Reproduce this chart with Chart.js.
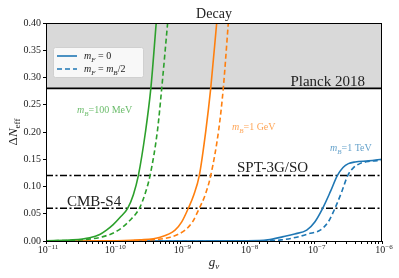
<!DOCTYPE html>
<html><head><meta charset="utf-8">
<script src="https://cdn.jsdelivr.net/npm/chart.js@4/dist/chart.umd.min.js"></script>
<style>html,body{margin:0;padding:0;background:#fff}</style>
</head><body>
<canvas id="c" width="399" height="278"></canvas>
<script>
// x values are log10(g_nu), y values are Delta N_eff
const greenSolidX = [-11, -10.6, -10.35, -10.2, -10.1, -10.0, -9.9, -9.785, -9.7, -9.626, -9.52, -9.44, -9.36];
const greenSolidY = [0.0005, 0.002, 0.006, 0.012, 0.02, 0.03, 0.043, 0.06, 0.085, 0.12, 0.2, 0.28, 0.40];
const greenDashX = [-11, -10.5, -10.15, -9.92, -9.75, -9.611, -9.53, -9.452, -9.34, -9.278, -9.19];
const greenDashY = [0.0003, 0.002, 0.008, 0.02, 0.038, 0.06, 0.085, 0.12, 0.204, 0.28, 0.40];
const orangeSolidX = [-11, -10, -9.6, -9.3, -9.08, -8.98, -8.882, -8.8, -8.719, -8.62, -8.549, -8.46];
const orangeSolidY = [0, 0.0005, 0.002, 0.007, 0.02, 0.035, 0.06, 0.085, 0.12, 0.204, 0.28, 0.40];
const orangeDashX = [-11, -10, -9.45, -9.15, -8.93, -8.82, -8.719, -8.63, -8.549, -8.43, -8.362, -8.287];
const orangeDashY = [0, 0.0003, 0.002, 0.007, 0.02, 0.035, 0.06, 0.085, 0.12, 0.204, 0.28, 0.40];
const blueSolidX = [-11, -8, -7.7, -7.47, -7.3, -7.12, -7.0, -6.883, -6.77, -6.665, -6.58, -6.5, -6.4, -6.2, -6];
const blueSolidY = [0, 0.0003, 0.002, 0.008, 0.013, 0.02, 0.035, 0.06, 0.09, 0.12, 0.135, 0.142, 0.145, 0.147, 0.15];
const blueDashX = [-11, -7.8, -7.5, -7.27, -7.1, -6.92, -6.8, -6.70, -6.6, -6.51, -6.42, -6.33, -6.2, -6];
const blueDashY = [0, 0.0003, 0.002, 0.007, 0.013, 0.02, 0.035, 0.06, 0.09, 0.12, 0.135, 0.142, 0.146, 0.148];
const planckLimit = 0.28;
const sptLimit = 0.12;
const s4Limit = 0.06;
const xTickExps = [-11, -10, -9, -8, -7, -6];
const yTicks = [0, 0.05, 0.10, 0.15, 0.20, 0.25, 0.30, 0.35, 0.40];

const green = '#2ca02c', orange = '#ff7f0e', blue = '#1f77b4';
const serif = '"Liberation Serif", "DejaVu Serif", serif';

function pts(xs, ys) {
  return xs.map((v, i) => ({x: Math.pow(10, v), y: ys[i]}));
}
function curve(xs, ys, color, dashed) {
  return {data: pts(xs, ys), borderColor: color, borderWidth: 1.6, borderDash: dashed ? [5, 3] : [],
    pointRadius: 0, cubicInterpolationMode: 'monotone', fill: false, order: 1};
}
function hline(v, dash, width, order) {
  return {data: [{x: 1e-11, y: v}, {x: 1e-6, y: v}], borderColor: '#000', borderWidth: width,
    borderDash: dash, pointRadius: 0, fill: false, order: order};
}

// draw text pieces: [text, 'r'|'i'|'sub'|'isub'|'sup']
function mathText(ctx, parts, x, y, size, color, align) {
  const small = p => p[1] === 'sub' || p[1] === 'isub' || p[1] === 'sup';
  const fontOf = p => {
    const it = p[1] === 'i' || p[1] === 'isub';
    return (it ? 'italic ' : '') + Math.round(small(p) ? size * 0.7 : size) + 'px ' + serif;
  };
  let w = 0;
  parts.forEach(p => { ctx.font = fontOf(p); w += ctx.measureText(p[0]).width; });
  let cx = align === 'center' ? x - w / 2 : (align === 'right' ? x - w : x);
  ctx.fillStyle = color;
  ctx.textBaseline = 'alphabetic';
  ctx.textAlign = 'left';
  parts.forEach(p => {
    ctx.font = fontOf(p);
    let dy = 0;
    if (p[1] === 'sub' || p[1] === 'isub') dy = size * 0.25;
    if (p[1] === 'sup') dy = -size * 0.45;
    ctx.fillText(p[0], cx, y + dy);
    cx += ctx.measureText(p[0]).width;
  });
}

const extras = {
  id: 'extras',
  afterDatasetsDraw(chart) {
    const ctx = chart.ctx, a = chart.chartArea;
    const xs = chart.scales.x, ys = chart.scales.y;
    ctx.save();
    // frame
    ctx.strokeStyle = '#000';
    ctx.lineWidth = 1;
    ctx.strokeRect(a.left + 0.5, a.top + 0.5, a.right - a.left - 1, a.bottom - a.top);
    // x tick labels
    xTickExps.forEach(e => {
      mathText(ctx, [['10', 'r'], ['\u2212' + Math.abs(e), 'sup']], xs.getPixelForValue(Math.pow(10, e)) + 2,
        a.bottom + 12, 10, '#222', 'center');
    });
    // annotations
    mathText(ctx, [['Decay', 'r']], (a.left + a.right) / 2, 18, 14, '#222', 'center');
    mathText(ctx, [['Planck 2018', 'r']], 365, ys.getPixelForValue(planckLimit) - 2.5, 14.5, '#222', 'right');
    mathText(ctx, [['SPT-3G/SO', 'r']], 237, ys.getPixelForValue(sptLimit) - 4, 14.5, '#222', 'left');
    mathText(ctx, [['CMB-S4', 'r']], 67, ys.getPixelForValue(s4Limit) - 2.5, 14.5, '#222', 'left');
    mathText(ctx, [['m', 'i'], ['B', 'isub'], ['=100 MeV', 'r']], 77, 113, 10, 'rgba(44,160,44,0.7)', 'left');
    mathText(ctx, [['m', 'i'], ['B', 'isub'], ['=1 GeV', 'r']], 232, 130, 10, 'rgba(255,127,14,0.7)', 'left');
    mathText(ctx, [['m', 'i'], ['B', 'isub'], ['=1 TeV', 'r']], 330, 151, 10, 'rgba(31,119,180,0.7)', 'left');
    // legend
    const lx = 53, ly = 47, lw = 90, lh = 30;
    ctx.beginPath();
    ctx.roundRect(lx + 0.5, ly + 0.5, lw, lh, 2);
    ctx.fillStyle = 'rgba(255,255,255,0.8)';
    ctx.fill();
    ctx.strokeStyle = '#d0d0d0';
    ctx.stroke();
    ctx.strokeStyle = blue;
    ctx.lineWidth = 1.6;
    ctx.setLineDash([]);
    ctx.beginPath(); ctx.moveTo(lx + 4, ly + 9); ctx.lineTo(lx + 24, ly + 9); ctx.stroke();
    ctx.setLineDash([5, 3]);
    ctx.beginPath(); ctx.moveTo(lx + 4, ly + 22); ctx.lineTo(lx + 24, ly + 22); ctx.stroke();
    ctx.setLineDash([]);
    mathText(ctx, [['m', 'i'], ['F', 'isub'], [' = 0', 'r']], lx + 31, ly + 12, 10, '#222', 'left');
    mathText(ctx, [['m', 'i'], ['F', 'isub'], [' = ', 'r'], ['m', 'i'], ['B', 'isub'], ['/2', 'r']], lx + 31, ly + 25, 10, '#222', 'left');
    // axis titles
    mathText(ctx, [['g', 'i'], ['\u03bd', 'isub']], (a.left + a.right) / 2, 266, 13, '#222', 'center');
    ctx.translate(17, (a.top + a.bottom) / 2);
    ctx.rotate(-Math.PI / 2);
    mathText(ctx, [['\u0394', 'r'], ['N', 'i'], ['eff', 'sub']], 0, 0, 13, '#222', 'center');
    ctx.restore();
  }
};

const decayBand = {data: [{x: 1e-11, y: 0.4}, {x: 1e-6, y: 0.4}], borderWidth: 0, pointRadius: 0,
  backgroundColor: '#d9d9d9', fill: {value: planckLimit}, order: 10};

new Chart(document.getElementById('c'), {
  type: 'line',
  data: {
    datasets: [
      decayBand,
      hline(planckLimit, [], 1.6, 5),
      hline(sptLimit, [7, 2.5, 2, 2.5], 1.5, 5),
      hline(s4Limit, [7, 2.5, 2, 2.5], 1.5, 5),
      curve(greenSolidX, greenSolidY, green, false),
      curve(greenDashX, greenDashY, green, true),
      curve(orangeSolidX, orangeSolidY, orange, false),
      curve(orangeDashX, orangeDashY, orange, true),
      curve(blueSolidX, blueSolidY, blue, false),
      curve(blueDashX, blueDashY, blue, true)
    ]
  },
  options: {
    responsive: false,
    animation: false,
    devicePixelRatio: 1,
    layout: {padding: {top: 23, right: 17, left: 0, bottom: 0}},
    plugins: {legend: {display: false}, tooltip: {enabled: false}},
    scales: {
      x: {
        type: 'logarithmic', min: 1e-11, max: 1e-6,
        afterFit: s => { s.height = 37; },
        border: {color: '#000', width: 1},
        grid: {drawOnChartArea: false, drawTicks: true, tickLength: 3, tickColor: '#000'},
        ticks: {autoSkip: false, maxRotation: 0, padding: 1, color: 'rgba(0,0,0,0)',
          font: {family: serif, size: 10}, callback: () => ' '}
      },
      y: {
        min: 0, max: 0.4,
        afterFit: s => { s.width = 46; },
        afterBuildTicks: s => { s.ticks = yTicks.map(v => ({value: v})); },
        border: {color: '#000', width: 1},
        grid: {drawOnChartArea: false, drawTicks: true, tickLength: 3, tickColor: '#000'},
        ticks: {padding: 2, color: '#222', font: {family: serif, size: 10}, callback: v => v.toFixed(2)}
      }
    }
  },
  plugins: [extras]
});
</script>
</body></html>
